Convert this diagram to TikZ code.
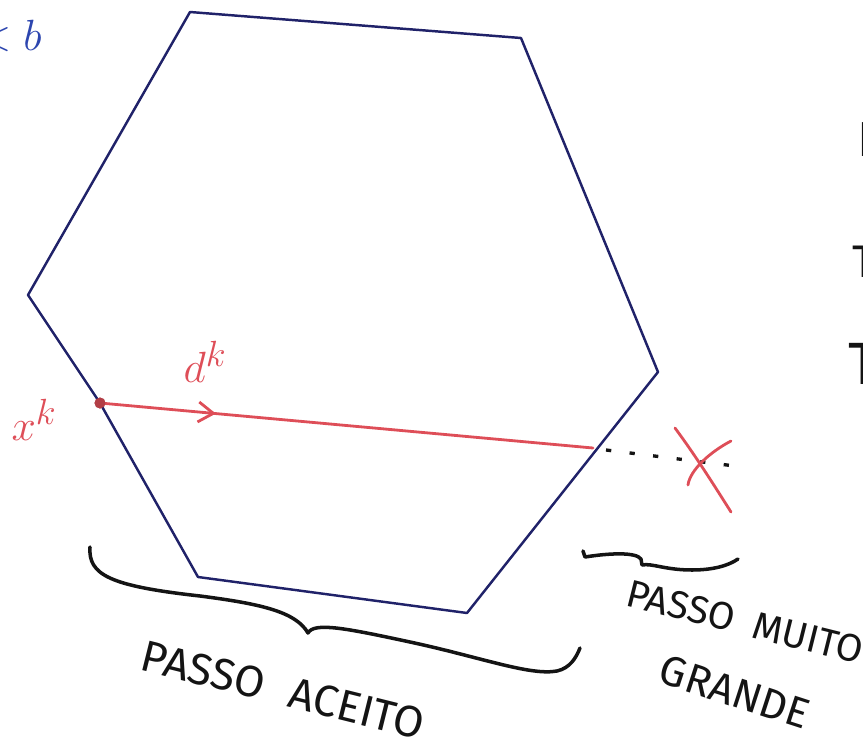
\documentclass[tikz,border=0pt]{standalone}
\usepackage{fontspec}
\newfontfamily\hand{Fira Sans}
\usetikzlibrary{arrows.meta,decorations.markings}
\definecolor{hexblue}{RGB}{32,34,105}
\definecolor{inkred}{RGB}{222,78,88}
\definecolor{inkblue}{RGB}{45,70,175}
\definecolor{ink}{RGB}{20,20,20}
\tikzset{
  hexline/.style={draw=hexblue, line width=1.4pt, line join=round},
  redline/.style={draw=inkred, line width=1.6pt, line cap=round},
  midchevron/.style={postaction=decorate, decoration={markings,
      mark=at position 0.235 with {\arrow[inkred, line width=1.6pt]{Straight Barb[length=0.3cm,width=0.4cm]}}}},
  dashline/.style={draw=ink, line width=1.9pt, dash pattern=on 3pt off 10.5pt},
  xstroke/.style={draw=inkred, line width=1.6pt, line cap=round},
  bracepath/.style={draw=ink, line width=2pt, line cap=round, line join=round},
  handtext/.style={text=ink, font=\hand\fontsize{#1}{#1}\selectfont, inner sep=0pt},
  mathlab/.style={text=inkred, font=\fontsize{30}{30}\selectfont, inner sep=0pt},
  dotnode/.style={circle, fill=inkred!80!black, inner sep=0pt, minimum size=0.22cm}
}
\begin{document}
\begin{tikzpicture}[x=0.02cm, y=-0.02cm]
\useasboundingbox (0,0) rectangle (863,741);
\clip (0,0) rectangle (863,741);

% hexagon corners
\coordinate (tl) at (190,12);
\coordinate (tr) at (521,38);
\coordinate (r)  at (658,372);
\coordinate (br) at (467,613);
\coordinate (bl) at (198,577);
\coordinate (l)  at (28,295);
\coordinate (pb) at (593,448);
\node[dotnode] (xk) at (100,403) {};

\draw[hexline] (tl) -- (tr) -- (r) -- (br) -- (bl) -- (xk.center) -- (l) -- cycle;

% direction d^k
\draw[redline, midchevron] (xk.center) -- (pb);
\node[dotnode] at (xk) {};

% dotted continuation and the cross
\coordinate (dstart) at (606,450);
\coordinate (dend) at (735,466);
\draw[dashline] (dstart) -- (dend);
\coordinate (xa1) at (675,428);
\coordinate (xa2) at (731,512);
\coordinate (xb1) at (688,485);
\coordinate (xb2) at (731,441);
\draw[xstroke] (xa1) .. controls (695,455) and (712,482) .. (xa2);
\draw[xstroke] (xb1) .. controls (690,470) and (710,452) .. (xb2);

% labels
\node[mathlab] (xlab) at (34,420) {$x^k$};
\node[mathlab] (dlab) at (205,362) {$d^k$};
\node[text=inkblue, font=\fontsize{30}{30}\selectfont, inner sep=0pt, anchor=east] (blab) at (42,36) {$<b$};

% cut-off letters on the right edge
\node[handtext=28, anchor=west] (e1) at (857,140) {E};
\node[handtext=26] (t1) at (864,262) {T};
\node[handtext=34] (t2) at (864,364) {T};

% brace under the accepted step
\coordinate (b1s) at (90,547);
\coordinate (b1t) at (308,633);
\coordinate (b1e) at (580,648);
\draw[bracepath] (b1s) .. controls (88,575) and (110,586) .. (200,596)
  .. controls (262,604) and (296,612) .. (b1t)
  .. controls (314,622) and (345,628) .. (410,642)
  .. controls (480,657) and (530,676) .. (557,671)
  .. controls (570,668) and (576,658) .. (b1e);

% brace under the too-large step
\coordinate (b2s) at (583,551);
\coordinate (b2t) at (642,565);
\coordinate (b2e) at (738,559);
\draw[bracepath] (b2s) -- (585,557) .. controls (610,553) and (636,552) .. (641,559)
  -- (b2t) .. controls (652,563) and (665,570) .. (692,570)
  .. controls (712,570) and (728,566) .. (b2e);

% texts
\node[handtext=25, rotate=-14] (acc) at (283,690) {PASSO\hspace{0.6em}ACEITO};
\node[handtext=22, rotate=-14] (muito) at (745,622) {PASSO\hspace{0.5em}MUITO};
\node[handtext=24, rotate=-18] (grande) at (735,692) {GRANDE};
\end{tikzpicture}
\end{document}
